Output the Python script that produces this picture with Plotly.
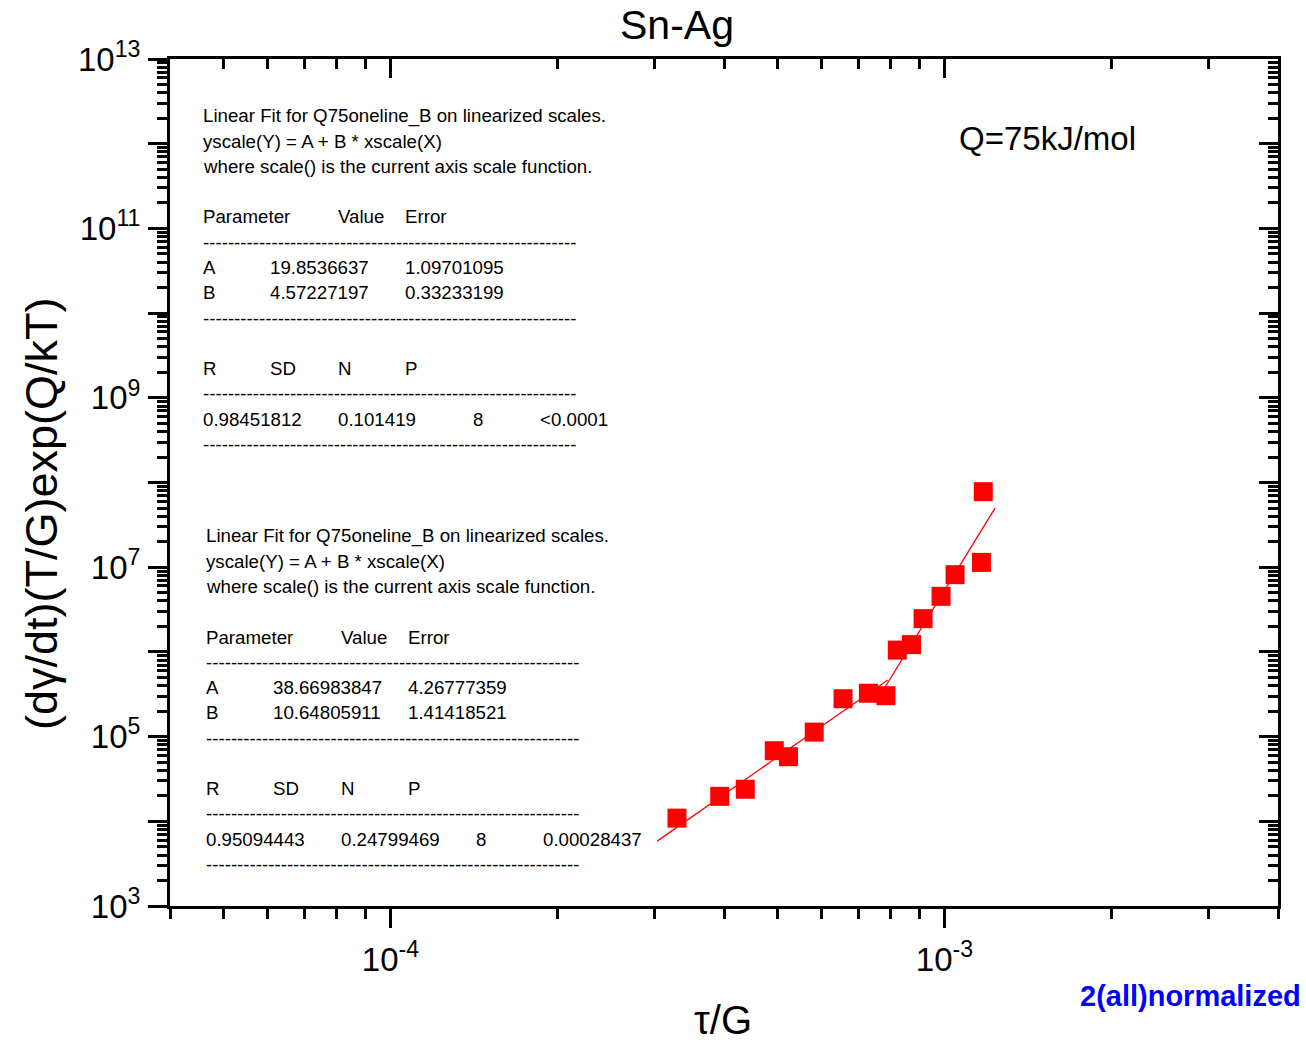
import numpy as np
import plotly.graph_objects as go

# ---- data -------------------------------------------------------------
# normalized shear stress tau/G and normalized strain rate, low-stress regime
tau_low = [3.29e-4, 3.93e-4, 4.37e-4, 4.93e-4, 5.23e-4, 5.82e-4, 6.56e-4, 7.29e-4]
rate_low = [1.09e4, 1.97e4, 2.39e4, 6.82e4, 5.79e4, 1.13e5, 2.80e5, 3.25e5]
# high-stress regime
tau_high = [7.84e-4, 8.22e-4, 8.72e-4, 9.15e-4, 9.86e-4, 1.045e-3, 1.166e-3, 1.175e-3]
rate_high = [3.04e5, 1.05e6, 1.22e6, 2.47e6, 4.53e6, 8.16e6, 1.14e7, 7.79e7]

# linear fits on log-log scales: log10(Y) = A + B*log10(X)
fit_low = dict(A="19.8536637", A_err="1.09701095", B="4.57227197", B_err="0.33233199",
               R="0.98451812", SD="0.101419", N="8", P="&lt;0.0001")
fit_high = dict(A="38.66983847", A_err="4.26777359", B="10.64805911", B_err="1.41418521",
                R="0.95094443", SD="0.24799469", N="8", P="0.00028437")
fit_low_span = [3.03e-4, 7.90e-4]
fit_high_span = [7.79e-4, 1.234e-3]

x_range = [4e-5, 4e-3]
y_range = [1e3, 1e13]

FONT = "Liberation Sans, Arial, sans-serif"
RED = "#FF0000"

# ---- geometry ---------------------------------------------------------
W, H = 1306, 1045
PL, PR, PT, PB = 170, 1278, 59, 906


def px(x):
    return (x - PL) / (PR - PL)


def py(y):
    return (PB - y) / (PB - PT)


fig = go.Figure()


def fit_line(fit, span):
    xs = np.logspace(np.log10(span[0]), np.log10(span[1]), 2)
    ys = 10 ** (float(fit["A"]) + float(fit["B"]) * np.log10(xs))
    return xs, ys


for fit, span in ((fit_low, fit_low_span), (fit_high, fit_high_span)):
    xs, ys = fit_line(fit, span)
    fig.add_trace(go.Scatter(x=xs, y=ys, mode="lines",
                             line=dict(color=RED, width=1.3),
                             showlegend=False, hoverinfo="skip"))

fig.add_trace(go.Scatter(x=tau_low + tau_high, y=rate_low + rate_high, mode="markers",
                         marker=dict(symbol="square", size=19, color=RED,
                                     line=dict(width=0)),
                         showlegend=False))

# empty traces so the mirrored top/right axes and the unlabeled left ticks are drawn
fig.add_trace(go.Scatter(x=[], y=[], xaxis="x2", yaxis="y2", showlegend=False))
fig.add_trace(go.Scatter(x=[], y=[], xaxis="x", yaxis="y3", showlegend=False))

# ---- axes -------------------------------------------------------------
def minor_vals(lo_exp, hi_exp):
    return [m * 10.0 ** e for e in range(lo_exp, hi_exp + 1) for m in range(2, 10)]


x_major = [10.0 ** e for e in range(-4, -2)]
x_text = ["10<sup>%d</sup>" % e for e in range(-4, -2)]
y_all = [10.0 ** e for e in range(3, 14)]
y_labeled = [10.0 ** e for e in range(3, 14, 2)]
y_text = ["10<sup>%d</sup>" % e for e in range(3, 14, 2)]
y_unlabeled = [10.0 ** e for e in range(4, 13, 2)]

common = dict(type="log", showgrid=False, zeroline=False, showline=True,
              linecolor="black", linewidth=3, tickcolor="black", tickwidth=2.5,
              ticklen=19, tickfont=dict(family=FONT, size=33, color="black"))


def minor(vals, side):
    return dict(tickmode="array", tickvals=vals, ticks=side,
                ticklen=10, tickwidth=2.5, tickcolor="black")


xr = [np.log10(x_range[0]), np.log10(x_range[1])]
yr = [np.log10(y_range[0]), np.log10(y_range[1])]

fig.update_layout(
    xaxis=dict(range=xr, ticks="outside", tickmode="array", tickvals=x_major,
               ticktext=x_text, ticklabelstandoff=3,
               minor=minor(minor_vals(-5, -3), "outside"), **common),
    yaxis=dict(range=yr, ticks="outside", tickmode="array", tickvals=y_labeled,
               ticktext=y_text, ticklabelstandoff=1,
               minor=minor(minor_vals(3, 12), "outside"), **common),
    yaxis3=dict(range=yr, overlaying="y", side="left", anchor="x", ticks="outside",
                tickmode="array", tickvals=y_unlabeled, showticklabels=False, **common),
    xaxis2=dict(range=xr, overlaying="x", side="top", anchor="y", ticks="inside",
                tickmode="array", tickvals=x_major, showticklabels=False,
                minor=minor(minor_vals(-5, -3), "inside"), **common),
    yaxis2=dict(range=yr, overlaying="y", side="right", anchor="x", ticks="inside",
                tickmode="array", tickvals=y_all, showticklabels=False,
                minor=minor(minor_vals(3, 12), "inside"), **common),
)

# ---- text -------------------------------------------------------------
ann = []


def text(x, y, s, size, xanchor="left", yanchor="middle", **kw):
    ann.append(dict(x=px(x), y=py(y), xref="paper", yref="paper", text=s,
                    showarrow=False, xanchor=xanchor, yanchor=yanchor,
                    font=dict(family=FONT, size=size, color=kw.pop("color", "black")),
                    **kw))


DASHES = "-" * 60
TAB = 67.4
FS = 18.7


def fit_box(fit, x0, y0):
    col = lambda i: x0 + i * TAB
    rows = [
        (0, [(0, "Linear Fit for Q75oneline_B on linearized scales.")]),
        (25, [(0, "yscale(Y) = A + B * xscale(X)")]),
        (50, [(0, "where scale() is the current axis scale function.")]),
        (101, [(0, "Parameter"), (2, "Value"), (3, "Error")]),
        (126, [(0, DASHES)]),
        (151, [(0, "A"), (1, fit["A"]), (3, fit["A_err"])]),
        (176, [(0, "B"), (1, fit["B"]), (3, fit["B_err"])]),
        (202, [(0, DASHES)]),
        (252, [(0, "R"), (1, "SD"), (2, "N"), (3, "P")]),
        (277, [(0, DASHES)]),
        (303, [(0, fit["R"]), (2, fit["SD"]), (4, fit["N"]), (5, fit["P"])]),
        (328, [(0, DASHES)]),
    ]
    for dy, cells in rows:
        for c, s in cells:
            text(col(c), y0 + dy, s, FS)


fit_box(fit_low, 201, 116)
fit_box(fit_high, 204, 536)

text(677, 25, "Sn-Ag", 41, xanchor="center")
text(1047, 138, "Q=75kJ/mol", 33, xanchor="center")
text(1303, 996, "<b>2(all)normalized</b>", 29, xanchor="right", color="#0000FF")
text(723, 1044, "τ/G", 40, xanchor="center", yanchor="bottom")
text(41, 514, "(dγ/dt)(T/G)exp(Q/kT)", 45, xanchor="center", textangle=-90)

fig.update_layout(
    width=W, height=H,
    margin=dict(l=PL, r=W - PR, t=PT, b=H - PB),
    paper_bgcolor="white", plot_bgcolor="white",
    annotations=ann,
    font=dict(family=FONT),
)

fig.write_html("out.html")
